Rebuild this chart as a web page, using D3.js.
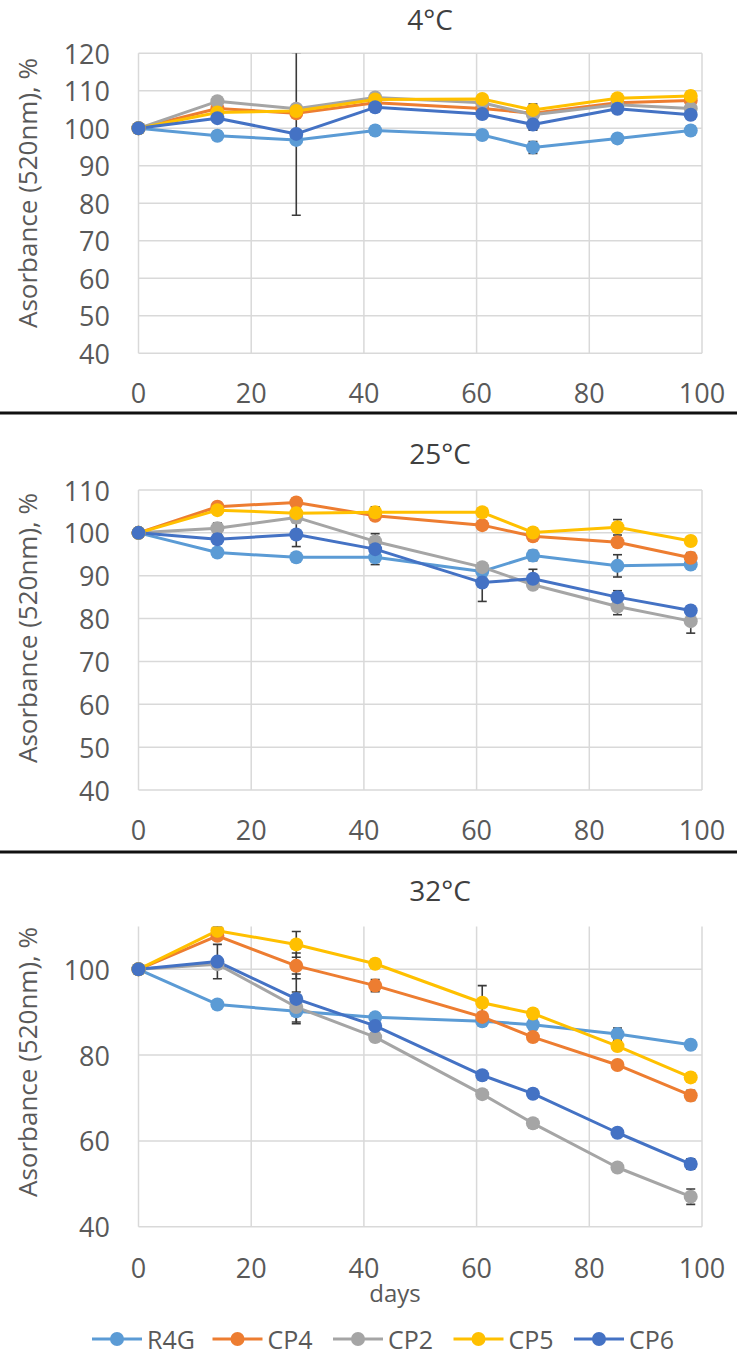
<!DOCTYPE html>
<html><head><meta charset="utf-8">
<script src="https://cdn.jsdelivr.net/npm/d3@7"></script>
<style>body{margin:0;background:#fff} text{font-family:"Open Sans",sans-serif;fill:#595959}</style>
</head><body>
<svg id="c" width="739" height="1356"></svg>
<script>
// ---- data ----
const days = [0, 14, 28, 42, 61, 70, 85, 98];
const seriesNames = ["R4G", "CP4", "CP2", "CP5", "CP6"];
const seriesColors = ["#5B9BD5", "#ED7D31", "#A5A5A5", "#FFC000", "#4472C4"];
const panelTitles = ["4°C", "25°C", "32°C"];
const xTickLabels = [0, 20, 40, 60, 80, 100];
const yTicks4C = [40, 50, 60, 70, 80, 90, 100, 110, 120];
const yTicks25C = [40, 50, 60, 70, 80, 90, 100, 110];
const yTicks32C = [40, 60, 80, 100];

// 4°C
const r4g4C = [100, 98.0, 96.9, 99.4, 98.2, 94.9, 97.3, 99.4];
const cp44C = [100, 105.3, 104.0, 106.8, 105.3, 104.0, 106.8, 107.4];
const cp24C = [100, 107.2, 105.2, 108.2, 106.8, 103.6, 106.3, 105.3];
const cp54C = [100, 104.2, 104.6, 107.7, 107.8, 104.9, 108.0, 108.6];
const cp64C = [100, 102.7, 98.5, 105.6, 103.8, 101.0, 105.2, 103.6];
const r4g4CErr = [0, 1.2, 1.2, 1.2, 1.2, 1.6, 1.2, 1.2];
const cp44CErr = [0, 1.0, 1.0, 1.0, 1.0, 1.0, 1.0, 1.0];
const cp24CErr = [0, 1.2, 1.0, 1.0, 1.0, 1.0, 1.0, 1.0];
const cp54CErr = [0, 1.0, 1.0, 1.0, 1.0, 1.6, 1.0, 1.2];
const cp64CErr = [0, 1.0, 21.7, 1.0, 1.2, 1.5, 1.2, 1.2];

// 25°C
const r4g25C = [100, 95.4, 94.3, 94.3, 91.0, 94.7, 92.3, 92.6];
const cp425C = [100, 106.1, 107.1, 104.0, 101.8, 99.2, 97.8, 94.2];
const cp225C = [100, 101.1, 103.6, 98.0, 92.0, 87.9, 82.8, 79.4];
const cp525C = [100, 105.3, 104.6, 104.8, 104.8, 100.1, 101.3, 98.1];
const cp625C = [100, 98.5, 99.6, 96.2, 88.4, 89.3, 85.0, 81.9];
const r4g25CErr = [0, 1.0, 1.0, 1.0, 1.0, 1.2, 2.6, 1.0];
const cp425CErr = [0, 1.0, 1.0, 1.0, 1.0, 1.0, 1.0, 1.2];
const cp225CErr = [0, 1.2, 1.0, 1.0, 1.0, 1.0, 1.9, 2.8];
const cp525CErr = [0, 1.0, 1.0, 1.3, 1.0, 1.0, 1.8, 1.0];
const cp625CErr = [0, 1.0, 2.8, 3.6, 4.4, 2.2, 1.5, 1.0];

// 32°C
const r4g32C = [100, 91.8, 90.2, 88.8, 87.9, 87.1, 84.9, 82.4];
const cp432C = [100, 107.8, 100.8, 96.2, 88.9, 84.2, 77.7, 70.6];
const cp232C = [100, 101.2, 91.2, 84.2, 70.9, 64.1, 53.8, 47.0];
const cp532C = [100, 109.0, 105.8, 101.3, 92.2, 89.7, 82.1, 74.8];
const cp632C = [100, 101.8, 93.1, 86.8, 75.3, 71.0, 61.9, 54.6];
const r4g32CErr = [0, 1.0, 1.0, 1.0, 1.0, 1.2, 1.4, 1.0];
const cp432CErr = [0, 1.0, 3.0, 1.4, 1.0, 1.0, 1.0, 1.2];
const cp232CErr = [0, 1.0, 3.5, 1.0, 1.0, 1.0, 1.0, 1.8];
const cp532CErr = [0, 1.0, 3.0, 1.0, 4.0, 1.0, 1.0, 1.0];
const cp632CErr = [0, 4.0, 5.8, 1.0, 1.0, 1.0, 1.0, 1.2];

// ---- layout ----
const svg = d3.select("#c");
const xLeft = 138.5, xRight = 702;
const x = d3.scaleLinear().domain([0, 100]).range([xLeft, xRight]);

const panels = [
  {title: panelTitles[0], top: 53.3, bottom: 353.3, dom: [40, 120], ticks: yTicks4C,
   vals: [r4g4C, cp44C, cp24C, cp54C, cp64C], errs: [r4g4CErr, cp44CErr, cp24CErr, cp54CErr, cp64CErr],
   titleX: 430, titleY: 30, xLabY: 403, yTitleY: 193},
  {title: panelTitles[1], top: 490, bottom: 790, dom: [40, 110], ticks: yTicks25C,
   vals: [r4g25C, cp425C, cp225C, cp525C, cp625C], errs: [r4g25CErr, cp425CErr, cp225CErr, cp525CErr, cp625CErr],
   titleX: 440, titleY: 464, xLabY: 840, yTitleY: 628},
  {title: panelTitles[2], top: 926.4, bottom: 1226.7, dom: [40, 110], ticks: yTicks32C,
   vals: [r4g32C, cp432C, cp232C, cp532C, cp632C], errs: [r4g32CErr, cp432CErr, cp232CErr, cp532CErr, cp632CErr],
   titleX: 440, titleY: 901, xLabY: 1278, yTitleY: 1062}
];

panels.forEach((p, pi) => {
  const y = d3.scaleLinear().domain(p.dom).range([p.bottom, p.top]);
  const g = svg.append("g");
  const clipId = "clip" + pi;
  svg.append("clipPath").attr("id", clipId).append("rect")
    .attr("x", xLeft - 10).attr("y", p.top).attr("width", xRight - xLeft + 20).attr("height", p.bottom - p.top + 10);

  // gridlines
  g.append("g").selectAll("line").data(p.ticks).join("line")
    .attr("x1", xLeft).attr("x2", xRight).attr("y1", d => y(d)).attr("y2", d => y(d))
    .attr("stroke", "#d9d9d9").attr("stroke-width", 1.5);
  g.append("g").selectAll("line").data(xTickLabels).join("line")
    .attr("x1", d => x(d)).attr("x2", d => x(d)).attr("y1", p.top).attr("y2", p.bottom)
    .attr("stroke", "#d9d9d9").attr("stroke-width", 1.5);

  // y tick labels
  g.append("g").selectAll("text").data(p.ticks).join("text")
    .attr("x", 110).attr("y", d => y(d)).attr("text-anchor", "end")
    .attr("dominant-baseline", "central").attr("font-size", 27).text(d => d);
  // x tick labels
  g.append("g").selectAll("text").data(xTickLabels).join("text")
    .attr("x", d => x(d)).attr("y", p.xLabY).attr("text-anchor", "middle")
    .attr("font-size", 27).text(d => d);

  // title
  g.append("text").attr("x", p.titleX).attr("y", p.titleY).attr("text-anchor", "middle")
    .attr("font-size", 28).style("fill", "#404040").text(p.title);
  // y axis title
  g.append("text").attr("transform", `translate(27,${p.yTitleY}) rotate(-90)`)
    .attr("text-anchor", "middle").attr("dominant-baseline", "central")
    .attr("font-size", 26).text("Asorbance (520nm), %");

  const plot = g.append("g").attr("clip-path", `url(#${clipId})`);
  const line = d3.line().x((d, i) => x(days[i])).y(d => y(d));
  // lines
  p.vals.forEach((v, si) => {
    plot.append("path").attr("d", line(v)).attr("fill", "none")
      .attr("stroke", seriesColors[si]).attr("stroke-width", 3).attr("stroke-linejoin", "round");
  });
  // error bars
  p.vals.forEach((v, si) => {
    const e = p.errs[si];
    const eb = plot.append("g").attr("stroke", "#3a3a3a").attr("stroke-width", 1.6);
    v.forEach((val, i) => {
      if (!e[i]) return;
      const cx = x(days[i]);
      eb.append("line").attr("x1", cx).attr("x2", cx).attr("y1", y(val - e[i])).attr("y2", y(val + e[i]));
      eb.append("line").attr("x1", cx - 4.5).attr("x2", cx + 4.5).attr("y1", y(val - e[i])).attr("y2", y(val - e[i]));
      eb.append("line").attr("x1", cx - 4.5).attr("x2", cx + 4.5).attr("y1", y(val + e[i])).attr("y2", y(val + e[i]));
    });
  });
  // markers
  p.vals.forEach((v, si) => {
    plot.append("g").selectAll("circle").data(v).join("circle")
      .attr("cx", (d, i) => x(days[i])).attr("cy", d => y(d)).attr("r", 7)
      .attr("fill", seriesColors[si]);
  });
});

// separators
[413, 852].forEach(yy => {
  svg.append("line").attr("x1", 0).attr("x2", 737).attr("y1", yy).attr("y2", yy)
    .attr("stroke", "#111").attr("stroke-width", 3);
});

// x axis title
svg.append("text").attr("x", 395).attr("y", 1302).attr("text-anchor", "middle")
  .attr("font-size", 24).text("days");

// legend
const leg = svg.append("g");
seriesNames.forEach((n, i) => {
  const sx = 92 + i * 120.5, ly = 1339;
  leg.append("line").attr("x1", sx).attr("x2", sx + 50).attr("y1", ly).attr("y2", ly)
    .attr("stroke", seriesColors[i]).attr("stroke-width", 3);
  leg.append("circle").attr("cx", sx + 25).attr("cy", ly).attr("r", 7).attr("fill", seriesColors[i]);
  leg.append("text").attr("x", sx + 55).attr("y", ly).attr("dominant-baseline", "central")
    .attr("font-size", 25).text(n);
});
</script>
</body></html>
